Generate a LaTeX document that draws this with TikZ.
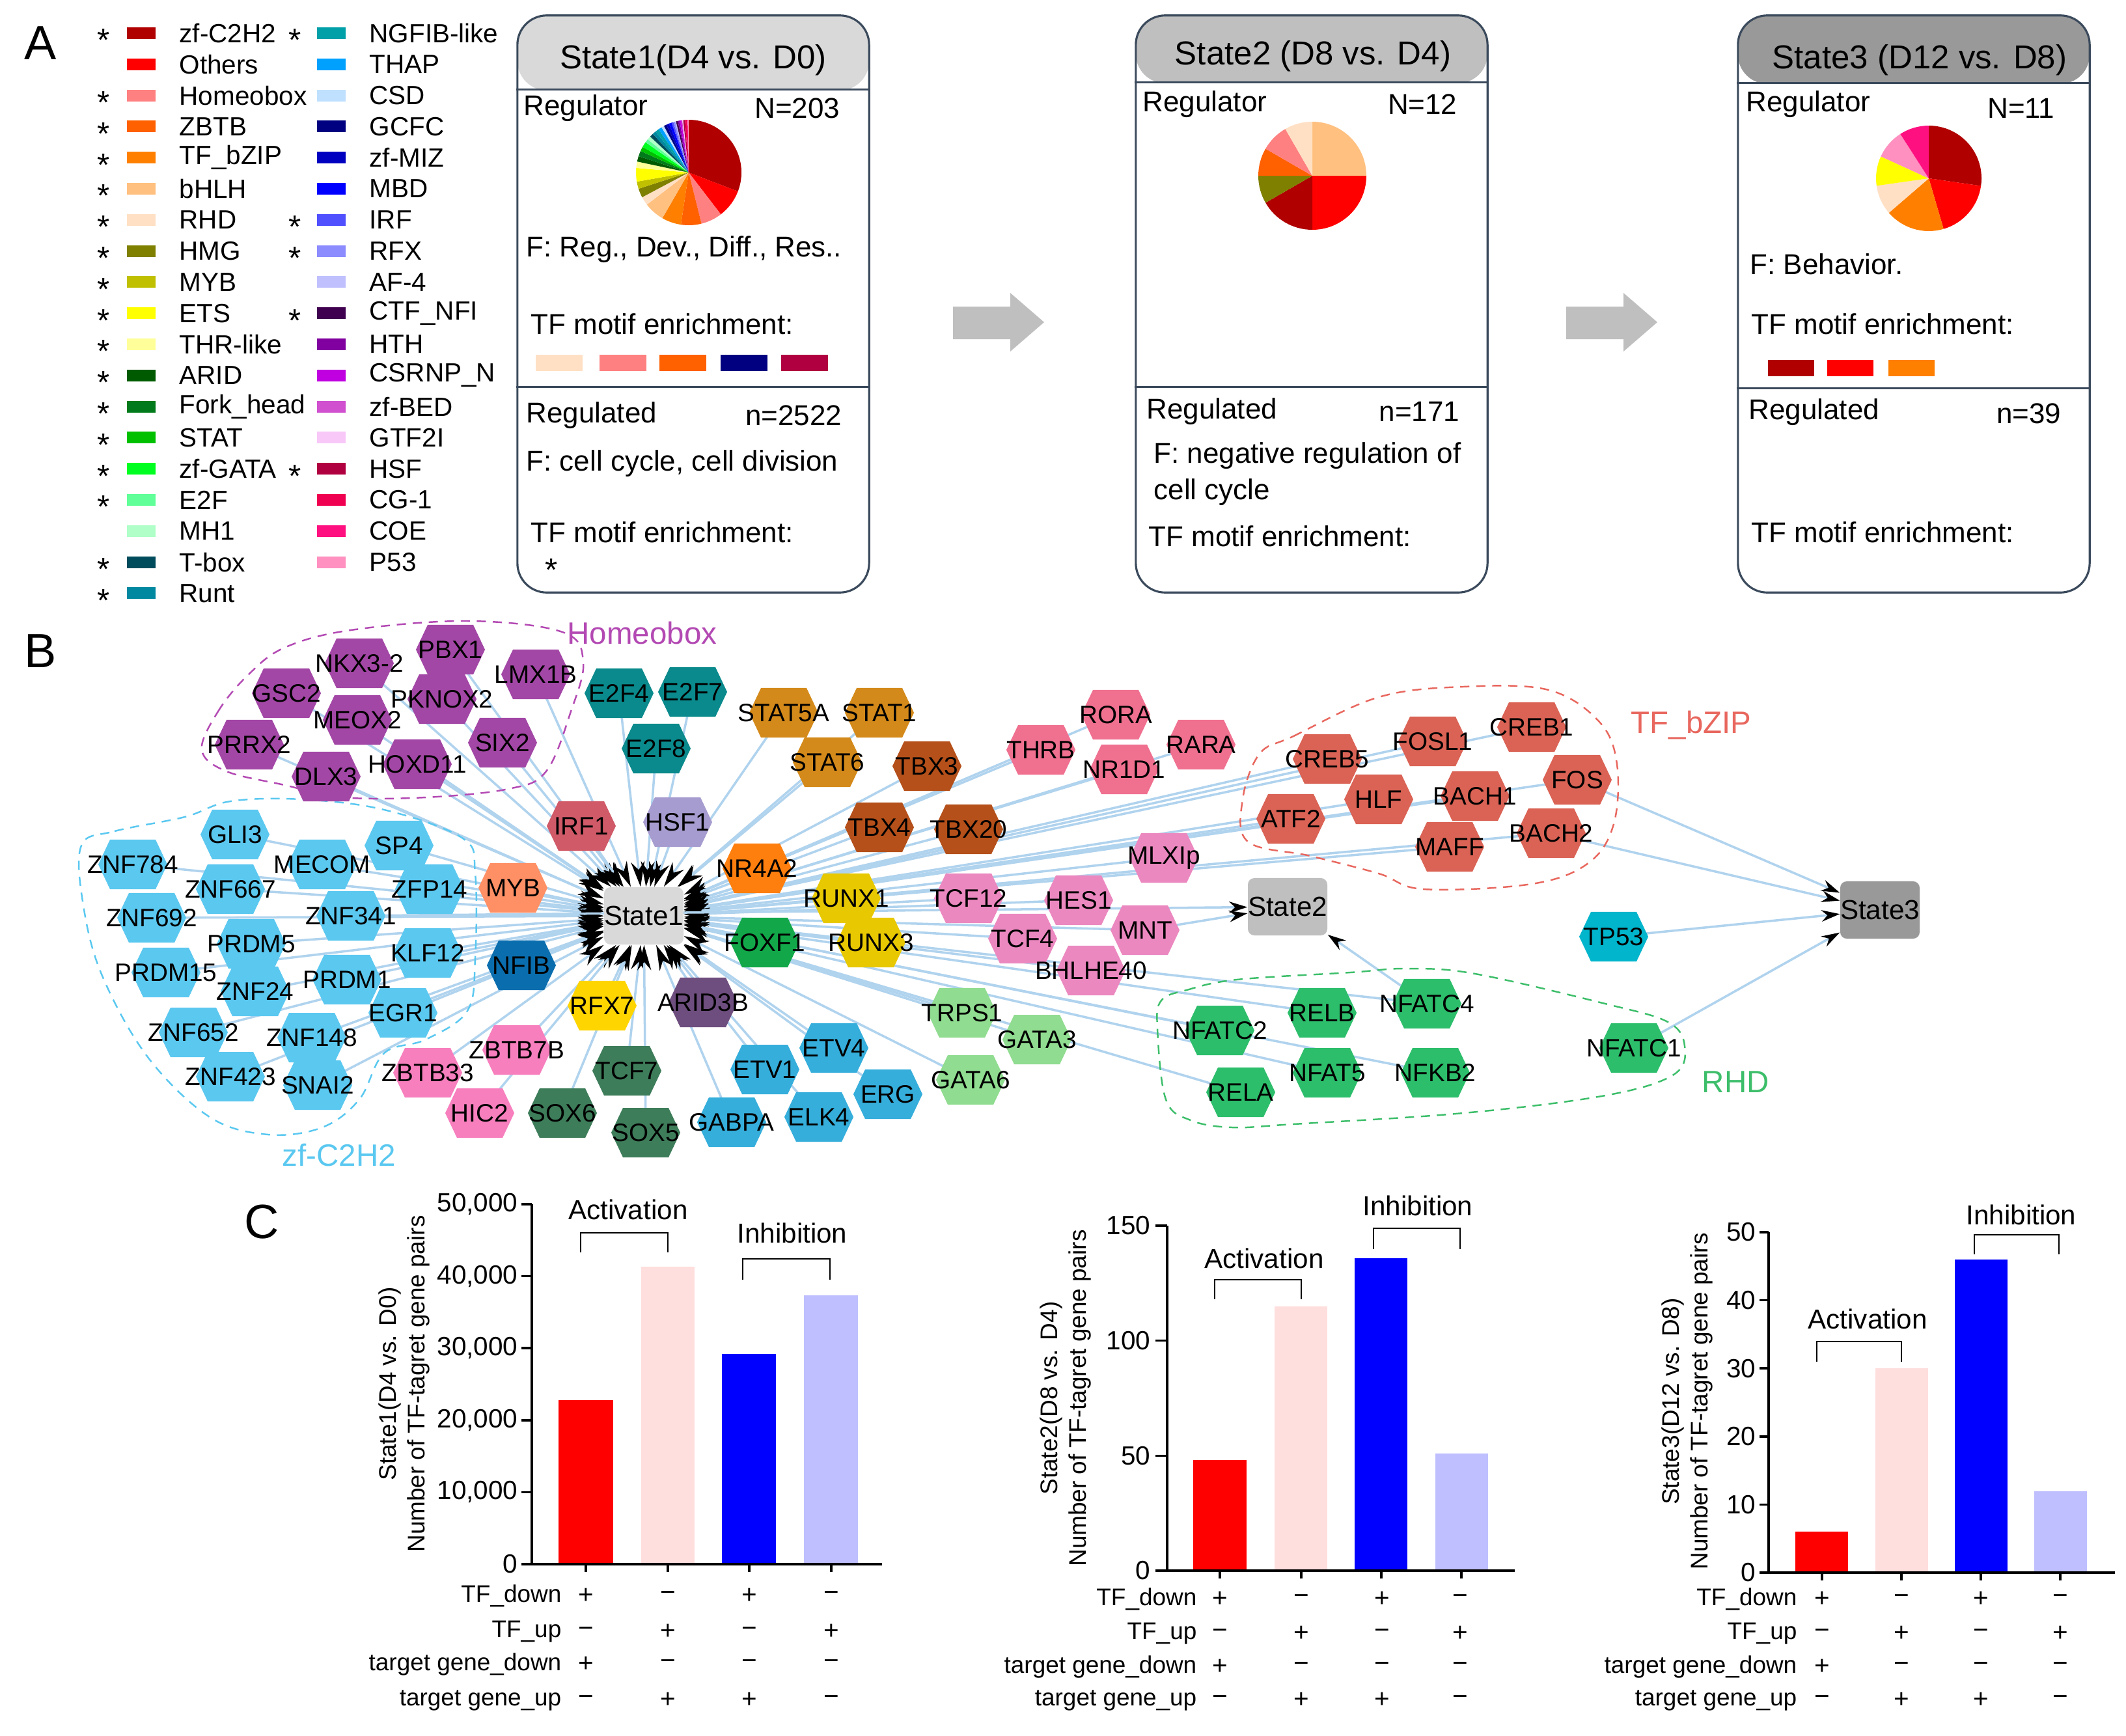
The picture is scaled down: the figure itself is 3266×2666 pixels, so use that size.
\documentclass[tikz,border=0pt]{standalone}
\usepackage{fontspec}
\setmainfont{Liberation Sans}
\usetikzlibrary{arrows.meta,backgrounds}
% legend / pie colours
\definecolor{cC2H2}{HTML}{B00000}\definecolor{cOth}{HTML}{FF0000}\definecolor{cHomeo}{HTML}{FF8080}
\definecolor{cZBTB}{HTML}{FF6000}\definecolor{cbZIP}{HTML}{FF8000}\definecolor{cbHLH}{HTML}{FFC080}
\definecolor{cRHD}{HTML}{FFE0C4}\definecolor{cHMG}{HTML}{808000}\definecolor{cMYB}{HTML}{C0C000}
\definecolor{cETS}{HTML}{FFFF00}\definecolor{cTHR}{HTML}{FFFF99}\definecolor{cARID}{HTML}{005A00}
\definecolor{cFork}{HTML}{007A1A}\definecolor{cSTAT}{HTML}{00C000}\definecolor{cGATA}{HTML}{00FF20}
\definecolor{cE2F}{HTML}{60FF98}\definecolor{cMH1}{HTML}{B0FFC8}\definecolor{cTbox}{HTML}{004C5C}
\definecolor{cRunt}{HTML}{0088A0}\definecolor{cNGFIB}{HTML}{00A0A8}\definecolor{cTHAP}{HTML}{00A0FF}
\definecolor{cCSD}{HTML}{C0E0FF}\definecolor{cGCFC}{HTML}{000080}\definecolor{cMIZ}{HTML}{0000C0}
\definecolor{cMBD}{HTML}{0000FF}\definecolor{cIRF}{HTML}{5050FF}\definecolor{cRFX}{HTML}{8C8CFF}
\definecolor{cAF}{HTML}{C0C0FF}\definecolor{cCTF}{HTML}{400050}\definecolor{cHTH}{HTML}{8000A0}
\definecolor{cCSRNP}{HTML}{C000E0}\definecolor{cBED}{HTML}{D050D0}\definecolor{cGTF}{HTML}{F8C8F8}
\definecolor{cHSF}{HTML}{B00040}\definecolor{cCG}{HTML}{F00050}\definecolor{cCOE}{HTML}{FF1080}
\definecolor{cP}{HTML}{FF90C0}
% network colours
\definecolor{nHomeo}{HTML}{A347A6}\definecolor{nZnf}{HTML}{5BC8F0}\definecolor{nE2F}{HTML}{0A8A8C}
\definecolor{nIRF}{HTML}{D05A68}\definecolor{nHSF}{HTML}{A79CCF}\definecolor{nMYB}{HTML}{FF9066}
\definecolor{nNFI}{HTML}{0A6EAE}\definecolor{nRFX}{HTML}{FFD500}\definecolor{nARID}{HTML}{6E4E7E}
\definecolor{nZBTB}{HTML}{F77FBE}\definecolor{nSOX}{HTML}{3E7D5A}\definecolor{nSTAT}{HTML}{D48A1A}
\definecolor{nTBX}{HTML}{B5501A}\definecolor{nNR}{HTML}{F07090}\definecolor{nNRf}{HTML}{FF7F0E}
\definecolor{nRUNX}{HTML}{E8C800}\definecolor{nFOX}{HTML}{12A84A}\definecolor{nbHLH}{HTML}{EC88C0}
\definecolor{nGATA}{HTML}{90DC90}\definecolor{nETS}{HTML}{35AEDB}\definecolor{nbZIP}{HTML}{DA6355}
\definecolor{nPf}{HTML}{00B5CC}\definecolor{nRHD}{HTML}{2DBE6C}\definecolor{edgec}{HTML}{B0D3EE}
\definecolor{boxc}{HTML}{3B4A5C}\definecolor{arrc}{HTML}{BFBFBF}
\definecolor{hdA}{HTML}{D9D9D9}\definecolor{hdB}{HTML}{BFBFBF}\definecolor{hdC}{HTML}{999999}
\definecolor{bRed}{HTML}{FF0000}\definecolor{bPink}{HTML}{FFDEDE}\definecolor{bBlue}{HTML}{0000FF}\definecolor{bLav}{HTML}{BFBFFF}
\definecolor{lHomeo}{HTML}{B349B3}\definecolor{lbZIP}{HTML}{E8675E}\definecolor{lRHD}{HTML}{3DBE6A}\definecolor{lZnf}{HTML}{5AC8F0}
% fonts
\newcommand\fLeg{\fontsize{11.5pt}{13pt}\selectfont}
\newcommand\fStar{\fontsize{14pt}{15pt}\selectfont}
\newcommand\fTitle{\fontsize{14.5pt}{17pt}\selectfont}
\newcommand\fBox{\fontsize{12.5pt}{15pt}\selectfont}
\newcommand\fNet{\fontsize{11pt}{13pt}\selectfont}
\newcommand\fSt{\fontsize{12pt}{14pt}\selectfont}
\newcommand\fClu{\fontsize{13.5pt}{16pt}\selectfont}
\newcommand\fBig{\fontsize{21pt}{25pt}\selectfont}
\newcommand\fTick{\fontsize{11.5pt}{13pt}\selectfont}
\newcommand\fAx{\fontsize{10.5pt}{12.5pt}\selectfont}
\newcommand\fRow{\fontsize{10.5pt}{12pt}\selectfont}
\newcommand\fAct{\fontsize{12pt}{14pt}\selectfont}
\newcommand\hx[5]{\node[hexn=#2] (#1) at (#3,#4) {\makebox[0pt]{#5}};}
\newcommand\mypie[4]{%
  \foreach \pc/\pd [remember=\pe as \ps (initially -90), evaluate=\pd as \pe using \ps+\pd] in {#4}{
    \fill[\pc] (#1,#2) -- ++(\ps:#3) arc[start angle=\ps, end angle=\pe, radius=#3] -- cycle;
  }}
\begin{document}
\begin{tikzpicture}[x=0.01cm,y=-0.01cm,
  legtxt/.style={anchor=west,font=\fLeg,inner sep=0pt},
  legstar/.style={font=\fStar,inner sep=0pt},
  swatch/.style={minimum width=0.44cm,minimum height=0.18cm,inner sep=0pt},
  mswatch/.style={minimum width=0.71cm,minimum height=0.25cm,inner sep=0pt},
  btitle/.style={font=\fTitle,inner sep=0pt},
  btxtl/.style={anchor=west,font=\fBox,inner sep=0pt},
  btxtr/.style={anchor=east,font=\fBox,inner sep=0pt},
  sbox/.style 2 args={draw=boxc,line width=0.9pt,rounded corners=0.45cm,minimum width=5.4cm,minimum height=8.86cm,inner sep=0pt,
     path picture={\fill[#1] (path picture bounding box.north west) rectangle ([yshift=-#2]path picture bounding box.north east);}},
  boxl/.style={draw=boxc,line width=0.9pt},
  hexn/.style={minimum width=1.06cm,minimum height=0.76cm,inner sep=0pt,font=\fNet,
     path picture={\fill[#1] ([xshift=0.18cm]path picture bounding box.north west) -- ([xshift=-0.18cm]path picture bounding box.north east) -- (path picture bounding box.east) -- ([xshift=-0.18cm]path picture bounding box.south east) -- ([xshift=0.18cm]path picture bounding box.south west) -- (path picture bounding box.west) -- cycle;}},
  stnode/.style={minimum width=1.12cm,minimum height=0.88cm,rounded corners=0.1cm,inner sep=0pt,font=\fSt},
  tfedge/.style={draw=edgec,line width=1pt,-{Stealth[length=11pt,width=6pt,color=black]}},
  tfedgeb/.style={draw=edgec,line width=1pt,-{Stealth[length=8pt,width=5pt,color=black]}},
  clus/.style={line width=0.7pt,dash pattern=on 4pt off 3pt},
  clab/.style={font=\fClu,inner sep=0pt},
  bigl/.style={font=\fBig,inner sep=0pt},
  axl/.style={line width=1pt,black},
  tickl/.style={font=\fTick,anchor=east,inner sep=0pt},
  rowl/.style={font=\fRow,anchor=east,inner sep=0pt},
  sgn/.style={font=\fTick,inner sep=0pt},
  brk/.style={line width=0.8pt},
  actl/.style={font=\fAct,inner sep=0pt},
  ytl/.style={font=\fAx,rotate=90,align=center,inner sep=0pt}]
\useasboundingbox (0,0) rectangle (3266,2666);

% ---------------- Panel A ----------------
\node[bigl] (labA) at (62,66) {A};
\foreach \t/\c [count=\i from 0] in {zf-C2H2/cC2H2,Others/cOth,Homeobox/cHomeo,ZBTB/cZBTB,TF\_bZIP/cbZIP,bHLH/cbHLH,RHD/cRHD,HMG/cHMG,MYB/cMYB,ETS/cETS,THR-like/cTHR,ARID/cARID,Fork\_head/cFork,STAT/cSTAT,zf-GATA/cGATA,E2F/cE2F,MH1/cMH1,T-box/cTbox,Runt/cRunt}{
  \node[swatch,fill=\c] (lsa\i) at (217,51+\i*47.8) {};
  \node[legtxt] (lta\i) at (275,51+\i*47.8) {\t};
}
\foreach \i in {0,2,3,4,5,6,7,8,9,10,11,12,13,14,15,17,18}{\node[legstar] (lxa\i) at (159,62+\i*47.8) {*};}
\foreach \t/\c [count=\i from 0] in {NGFIB-like/cNGFIB,THAP/cTHAP,CSD/cCSD,GCFC/cGCFC,zf-MIZ/cMIZ,MBD/cMBD,IRF/cIRF,RFX/cRFX,AF-4/cAF,CTF\_NFI/cCTF,HTH/cHTH,CSRNP\_N/cCSRNP,zf-BED/cBED,GTF2I/cGTF,HSF/cHSF,CG-1/cCG,COE/cCOE,P53/cP}{
  \node[swatch,fill=\c] (lsb\i) at (509,51+\i*47.8) {};
  \node[legtxt] (ltb\i) at (567,51+\i*47.8) {\t};
}
\foreach \i in {0,6,7,9,14}{\node[legstar] (lxb\i) at (453,62+\i*47.8) {*};}

% State boxes
\node[sbox={hdA}{1.15cm}] (box1) at (1065,467) {};
\draw[boxl] ([yshift=-1.15cm]box1.north west) -- ([yshift=-1.15cm]box1.north east);
\draw[boxl] ([yshift=-5.72cm]box1.north west) -- ([yshift=-5.72cm]box1.north east);
\node[btitle] (ti1) at (1065,92) {State1(D4 vs. D0)};
\node[btxtl] (rg1) at (804,166) {Regulator};
\node[btxtr] (nn1) at (1291,166) {N=203};
\mypie{1058}{265}{81}{cC2H2/111,cOth/31.5,cHomeo/23.5,cZBTB/22.5,cbZIP/21.5,cbHLH/22.5,cRHD/9.5,cHMG/10,cMYB/8,cETS/15,cTHR/7,cARID/6,cFork/6,cSTAT/5,cGATA/6,cE2F/4,cMH1/4,cTbox/4,cRunt/4,cNGFIB/4,cTHAP/4,cCSD/3,cGCFC/3,cMIZ/3,cMBD/3,cIRF/2,cRFX/2,cAF/1,cCTF/2,cHTH/2,cCSRNP/2,cBED/1,cGTF/1,cHSF/2,cCG/2,cCOE/1,cP/1}
\node[btxtl] (fa1) at (808,383) {F: Reg., Dev., Diff., Res..};
\node[btxtl] (mo1) at (815,498) {TF motif enrichment:};
\node[mswatch,fill=cRHD] (ms11) at (859,557) {};
\node[mswatch,fill=cHomeo] (ms12) at (957,557) {};
\node[mswatch,fill=cZBTB] (ms13) at (1049,557) {};
\node[mswatch,fill=cGCFC] (ms14) at (1143,557) {};
\node[mswatch,fill=cHSF] (ms15) at (1236,557) {};
\node[btxtl] (rd1) at (808,638) {Regulated};
\node[btxtr] (nd1) at (1294,638) {n=2522};
\node[btxtl] (fb1) at (808,712) {F: cell cycle, cell division};
\node[btxtl] (mo1b) at (815,818) {TF motif enrichment:};
\node[legstar] (st1) at (847,876) {*};

\node[sbox={hdB}{1.04cm}] (box2) at (2015,467) {};
\draw[boxl] ([yshift=-1.04cm]box2.north west) -- ([yshift=-1.04cm]box2.north east);
\draw[boxl] ([yshift=-5.72cm]box2.north west) -- ([yshift=-5.72cm]box2.north east);
\node[btitle] (ti2) at (2017,86) {State2 (D8 vs. D4)};
\node[btxtl] (rg2) at (1755,160) {Regulator};
\node[btxtr] (nn2) at (2239,160) {N=12};
\mypie{2016}{270}{83}{cbHLH/90,cOth/90,cC2H2/60,cHMG/30,cZBTB/30,cHomeo/30,cRHD/30}
\node[btxtl] (rd2) at (1761,632) {Regulated};
\node[btxtr] (nd2) at (2243,632) {n=171};
\node[btxtl] (fb2) at (1772,700) {F: negative regulation of};
\node[btxtl] (fc2) at (1772,756) {cell cycle};
\node[btxtl] (mo2) at (1764,824) {TF motif enrichment:};

\node[sbox={hdC}{1.05cm}] (box3) at (2940,467) {};
\draw[boxl] ([yshift=-1.05cm]box3.north west) -- ([yshift=-1.05cm]box3.north east);
\draw[boxl] ([yshift=-5.74cm]box3.north west) -- ([yshift=-5.74cm]box3.north east);
\node[btitle] (ti3) at (2949,92) {State3 (D12 vs. D8)};
\node[btxtl] (rg3) at (2682,160) {Regulator};
\node[btxtr] (nn3) at (3157,166) {N=11};
\mypie{2963}{274}{81}{cC2H2/98.2,cOth/65.5,cbZIP/65.5,cRHD/32.7,cETS/32.7,cP/32.7,cCOE/32.7}
\node[btxtl] (fa3) at (2688,406) {F: Behavior.};
\node[btxtl] (mo3) at (2690,498) {TF motif enrichment:};
\node[mswatch,fill=cC2H2] (ms31) at (2751,565) {};
\node[mswatch,fill=cOth] (ms32) at (2842,565) {};
\node[mswatch,fill=cbZIP] (ms33) at (2936,565) {};
\node[btxtl] (rd3) at (2686,633) {Regulated};
\node[btxtr] (nd3) at (3167,635) {n=39};
\node[btxtl] (mo3b) at (2690,818) {TF motif enrichment:};

% block arrows
\fill[arrc] (1464,471) -- (1552,471) -- (1552,450) -- (1604,495) -- (1552,540) -- (1552,521) -- (1464,521) -- cycle;
\fill[arrc] (2406,471) -- (2494,471) -- (2494,450) -- (2546,495) -- (2494,540) -- (2494,521) -- (2406,521) -- cycle;

% ---------------- Panel B ----------------
\node[bigl] (labB) at (62,1000) {B};
% Homeobox
\hx{PBX1}{nHomeo}{692}{998}{PBX1}
\hx{LMX1B}{nHomeo}{823}{1036}{LMX1B}
\hx{GSC2}{nHomeo}{440}{1065}{GSC2}
\hx{NKX32}{nHomeo}{552}{1019}{NKX3-2}
\hx{PKNOX2}{nHomeo}{679}{1074}{PKNOX2}
\hx{MEOX2}{nHomeo}{549}{1106}{MEOX2}
\hx{PRRX2}{nHomeo}{383}{1144}{PRRX2}
\hx{SIX2}{nHomeo}{772}{1141}{SIX2}
\hx{HOXD11}{nHomeo}{641}{1174}{HOXD11}
\hx{DLX3}{nHomeo}{501}{1193}{DLX3}
% zf-C2H2
\hx{GLI3}{nZnf}{361}{1282}{GLI3}
\hx{SP4}{nZnf}{613}{1299}{SP4}
\hx{ZNF784}{nZnf}{204}{1328}{ZNF784}
\hx{MECOM}{nZnf}{495}{1328}{MECOM}
\hx{ZNF667}{nZnf}{354}{1366}{ZNF667}
\hx{ZFP14}{nZnf}{660}{1366}{ZFP14}
\hx{ZNF692}{nZnf}{233}{1410}{ZNF692}
\hx{ZNF341}{nZnf}{539}{1407}{ZNF341}
\hx{PRDM5}{nZnf}{386}{1450}{PRDM5}
\hx{KLF12}{nZnf}{657}{1464}{KLF12}
\hx{PRDM15}{nZnf}{255}{1494}{PRDM15}
\hx{PRDM1}{nZnf}{533}{1505}{PRDM1}
\hx{ZNF24}{nZnf}{392}{1523}{ZNF24}
\hx{EGR1}{nZnf}{619}{1556}{EGR1}
\hx{ZNF652}{nZnf}{297}{1586}{ZNF652}
\hx{ZNF148}{nZnf}{479}{1594}{ZNF148}
\hx{ZNF423}{nZnf}{354}{1654}{ZNF423}
\hx{SNAI2}{nZnf}{488}{1667}{SNAI2}
% others
\hx{E2F4}{nE2F}{951}{1065}{E2F4}
\hx{E2F7}{nE2F}{1064}{1063}{E2F7}
\hx{E2F8}{nE2F}{1008}{1150}{E2F8}
\hx{IRF1}{nIRF}{893}{1269}{IRF1}
\hx{HSF1}{nHSF}{1041}{1263}{HSF1}
\hx{MYB}{nMYB}{788}{1364}{MYB}
\hx{NFIB}{nNFI}{801}{1483}{NFIB}
\hx{RFX7}{nRFX}{925}{1545}{RFX7}
\hx{ARID3B}{nARID}{1080}{1540}{ARID3B}
\hx{ZBTB7B}{nZBTB}{794}{1613}{ZBTB7B}
\hx{ZBTB33}{nZBTB}{657}{1648}{ZBTB33}
\hx{HIC2}{nZBTB}{737}{1710}{HIC2}
\hx{TCF7}{nSOX}{963}{1645}{TCF7}
\hx{SOX6}{nSOX}{864}{1710}{SOX6}
\hx{SOX5}{nSOX}{992}{1740}{SOX5}
\hx{STAT5A}{nSTAT}{1204}{1095}{STAT5A}
\hx{STAT1}{nSTAT}{1351}{1095}{STAT1}
\hx{STAT6}{nSTAT}{1271}{1171}{STAT6}
\hx{TBX3}{nTBX}{1424}{1177}{TBX3}
\hx{TBX4}{nTBX}{1351}{1271}{TBX4}
\hx{TBX20}{nTBX}{1488}{1274}{TBX20}
\hx{RORA}{nNR}{1714}{1098}{RORA}
\hx{THRB}{nNR}{1599}{1152}{THRB}
\hx{RARA}{nNR}{1845}{1144}{RARA}
\hx{NR1D1}{nNR}{1727}{1182}{NR1D1}
\hx{NR4A2}{nNRf}{1163}{1334}{NR4A2}
\hx{RUNX1}{nRUNX}{1300}{1380}{RUNX1}
\hx{RUNX3}{nRUNX}{1338}{1448}{RUNX3}
\hx{FOXF1}{nFOX}{1175}{1448}{FOXF1}
\hx{MLXIp}{nbHLH}{1788}{1318}{MLXIp}
\hx{TCF12}{nbHLH}{1488}{1380}{TCF12}
\hx{HES1}{nbHLH}{1657}{1383}{HES1}
\hx{MNT}{nbHLH}{1759}{1429}{MNT}
\hx{TCF4}{nbHLH}{1571}{1442}{TCF4}
\hx{BHLHE40}{nbHLH}{1676}{1491}{BHLHE40}
\hx{TRPS1}{nGATA}{1478}{1556}{TRPS1}
\hx{GATA3}{nGATA}{1593}{1597}{GATA3}
\hx{GATA6}{nGATA}{1491}{1659}{GATA6}
\hx{ETV4}{nETS}{1281}{1610}{ETV4}
\hx{ETV1}{nETS}{1175}{1643}{ETV1}
\hx{ERG}{nETS}{1364}{1681}{ERG}
\hx{ELK4}{nETS}{1258}{1716}{ELK4}
\hx{GABPA}{nETS}{1124}{1724}{GABPA}
% TF_bZIP
\hx{CREB5}{nbZIP}{2039}{1166}{CREB5}
\hx{FOSL1}{nbZIP}{2201}{1139}{FOSL1}
\hx{CREB1}{nbZIP}{2353}{1117}{CREB1}
\hx{ATF2}{nbZIP}{1983}{1258}{ATF2}
\hx{HLF}{nbZIP}{2118}{1228}{HLF}
\hx{BACH1}{nbZIP}{2266}{1223}{BACH1}
\hx{FOS}{nbZIP}{2423}{1198}{FOS}
\hx{MAFF}{nbZIP}{2227}{1301}{MAFF}
\hx{BACH2}{nbZIP}{2383}{1280}{BACH2}
\hx{TP53}{nPf}{2479}{1439}{TP53}
% RHD
\hx{NFATC2}{nRHD}{1874}{1583}{NFATC2}
\hx{RELA}{nRHD}{1906}{1678}{RELA}
\hx{RELB}{nRHD}{2031}{1556}{RELB}
\hx{NFATC4}{nRHD}{2192}{1542}{NFATC4}
\hx{NFAT5}{nRHD}{2039}{1648}{NFAT5}
\hx{NFKB2}{nRHD}{2205}{1648}{NFKB2}
\hx{NFATC1}{nRHD}{2510}{1610}{NFATC1}
% states
\node[stnode,fill=hdA] (State1) at (989,1407) {State1};
\node[stnode,fill=hdB] (State2) at (1978,1393) {State2};
\node[stnode,fill=hdC] (State3) at (2888,1398) {State3};
% cluster labels
\node[clab,text=lHomeo,anchor=west] (cluH) at (871,973) {Homeobox};
\node[clab,text=lbZIP,anchor=west] (cluB) at (2505,1114) {TF\_bZIP};
\node[clab,text=lRHD,anchor=west] (cluR) at (2614,1662) {RHD};
\node[clab,text=lZnf] (cluZ) at (521,1775) {zf-C2H2};

\begin{scope}[on background layer]
\fill[white] (0,0) rectangle (3266,2666);
\foreach \n in {PBX1,NKX32,LMX1B,GSC2,PKNOX2,MEOX2,PRRX2,SIX2,DLX3,HOXD11,
  GLI3,SP4,ZNF784,MECOM,ZNF667,ZFP14,ZNF692,ZNF341,PRDM5,KLF12,PRDM15,ZNF24,PRDM1,EGR1,ZNF652,ZNF148,ZNF423,SNAI2,
  E2F4,E2F7,E2F8,IRF1,HSF1,MYB,NFIB,RFX7,ARID3B,ZBTB7B,ZBTB33,HIC2,TCF7,SOX6,SOX5,
  STAT5A,STAT1,STAT6,TBX3,TBX4,TBX20,RORA,THRB,RARA,NR1D1,NR4A2,RUNX1,RUNX3,FOXF1,TCF12,HES1,MLXIp,MNT,TCF4,BHLHE40,
  TRPS1,GATA3,GATA6,ETV4,ETV1,ERG,ELK4,GABPA,
  CREB5,FOSL1,CREB1,ATF2,HLF,BACH1,FOS,MAFF,BACH2,
  NFATC2,RELA,RELB,NFATC4,NFAT5,NFKB2}{
  \draw[tfedge] (\n.center) -- (State1);
}
\foreach \n in {ZNF341,MNT,NFATC4}{\draw[tfedgeb] (\n.center) -- (State2);}
\foreach \n in {FOS,BACH2,TP53,NFATC1}{\draw[tfedgeb] (\n.center) -- (State3);}
\draw[clus,draw=lHomeo] plot[smooth cycle,tension=0.6] coordinates {(310,1152) (335,1093) (380,1038) (437,995) (539,968) (718,954) (864,971) (896,1017) (877,1093) (839,1185) (781,1212) (654,1225) (526,1225) (437,1206) (348,1185)};
\draw[clus,draw=lZnf] plot[smooth cycle,tension=0.6] coordinates {(125,1299) (176,1277) (284,1255) (354,1231) (463,1228) (590,1244) (711,1288) (730,1342) (730,1472) (718,1553) (654,1597) (590,1618) (552,1689) (495,1732) (412,1743) (322,1716) (227,1624) (157,1499) (128,1391)};
\draw[clus,draw=lbZIP] plot[smooth cycle,tension=0.6] coordinates {(1935,1158) (1987,1131) (2118,1071) (2248,1055) (2379,1060) (2457,1109) (2484,1174) (2479,1266) (2440,1326) (2353,1358) (2187,1366) (2118,1342) (2013,1315) (1917,1293) (1909,1228)};
\draw[clus,draw=lRHD] plot[smooth cycle,tension=0.6] coordinates {(1784,1537) (1823,1521) (1900,1505) (2074,1494) (2161,1488) (2266,1496) (2466,1542) (2562,1570) (2588,1607) (2571,1651) (2466,1683) (2248,1710) (1987,1727) (1893,1732) (1829,1721) (1791,1689) (1778,1580)};
\end{scope}

% ---------------- Panel C ----------------
\node[bigl] (labC) at (402,1877) {C};
% chart 1
\fill[bRed] (858,2151) rectangle (942,2403);
\fill[bPink] (985,1946) rectangle (1067,2403);
\fill[bBlue] (1109,2080) rectangle (1192,2403);
\fill[bLav] (1235,1990) rectangle (1318,2403);
\draw[axl] (817,1850) -- (817,2403);
\draw[axl] (801,2403) -- (1355,2403);
\foreach \v/\l [count=\k] in {0/0,1/{10,000},2/{20,000},3/{30,000},4/{40,000},5/{50,000}}{
  \draw[axl] (801,2403-\v*110.6) -- (817,2403-\v*110.6);
  \node[tickl] (cAt\k) at (796,2403-\v*110.6) {\l};
}
\foreach \x in {900,1026,1151,1277}{\draw[axl] (\x,2403) -- (\x,2415);}
\draw[brk] (892,1924) -- (892,1894) -- (1026,1894) -- (1026,1924);
\node[actl] (cAact) at (965,1858) {Activation};
\draw[brk] (1141,1966) -- (1141,1934) -- (1275,1934) -- (1275,1966);
\node[actl] (cAinh) at (1217,1894) {Inhibition};
\node[ytl] (cAy) at (621,2126) {State1(D4 vs. D0)\\Number of TF-tagret gene pairs};
\foreach \ry/\lab/\qa/\qb/\qc/\qd [count=\k] in {2452/TF\_down/+/−/+/−,2507/TF\_up/−/+/−/+,2557/target gene\_down/+/−/−/−,2612/target gene\_up/−/+/+/−}{
  \node[rowl] (cAr\k) at (863,\ry) {\lab};
  \node[sgn] (cAa\k) at (900,\ry) {\qa};
  \node[sgn] (cAb\k) at (1026,\ry) {\qb};
  \node[sgn] (cAc\k) at (1151,\ry) {\qc};
  \node[sgn] (cAd\k) at (1277,\ry) {\qd};
}
% chart 2
\fill[bRed] (1833,2243.4) rectangle (1915,2413);
\fill[bPink] (1958,2006.7) rectangle (2039,2413);
\fill[bBlue] (2081,1932.5) rectangle (2162,2413);
\fill[bLav] (2205,2232.8) rectangle (2286,2413);
\draw[axl] (1793,1883) -- (1793,2413);
\draw[axl] (1775,2413) -- (2327,2413);
\foreach \v [count=\k] in {0,50,100,150}{
  \draw[axl] (1775,2413-\v*3.533) -- (1793,2413-\v*3.533);
  \node[tickl] (cBt\k) at (1768,2413-\v*3.533) {\v};
}
\foreach \x in {1874,1999,2122,2245}{\draw[axl] (\x,2413) -- (\x,2425);}
\draw[brk] (1866,1996) -- (1866,1966) -- (1999,1966) -- (1999,1996);
\node[actl] (cBact) at (1942,1933) {Activation};
\draw[brk] (2110,1919) -- (2110,1887) -- (2243,1887) -- (2243,1919);
\node[actl] (cBinh) at (2178,1852) {Inhibition};
\node[ytl] (cBy) at (1637,2148) {State2(D8 vs. D4)\\Number of TF-tagret gene pairs};
\foreach \ry/\lab/\qa/\qb/\qc/\qd [count=\k] in {2457/TF\_down/+/−/+/−,2510/TF\_up/−/+/−/+,2561/target gene\_down/+/−/−/−,2612/target gene\_up/−/+/+/−}{
  \node[rowl] (cBr\k) at (1839,\ry) {\lab};
  \node[sgn] (cBa\k) at (1874,\ry) {\qa};
  \node[sgn] (cBb\k) at (1999,\ry) {\qb};
  \node[sgn] (cBc\k) at (2123,\ry) {\qc};
  \node[sgn] (cBd\k) at (2243,\ry) {\qd};
}
% chart 3
\fill[bRed] (2758,2353.2) rectangle (2839,2416);
\fill[bPink] (2881,2102.2) rectangle (2962,2416);
\fill[bBlue] (3003,1934.8) rectangle (3084,2416);
\fill[bLav] (3125,2290.5) rectangle (3206,2416);
\draw[axl] (2717,1893) -- (2717,2416);
\draw[axl] (2703,2416) -- (3249,2416);
\foreach \v [count=\k] in {0,10,20,30,40,50}{
  \draw[axl] (2703,2416-\v*10.46) -- (2717,2416-\v*10.46);
  \node[tickl] (cCt\k) at (2698,2416-\v*10.46) {\v};
}
\foreach \x in {2799,2921,3043,3165}{\draw[axl] (\x,2416) -- (\x,2428);}
\draw[brk] (2791,2092) -- (2791,2061) -- (2921,2061) -- (2921,2092);
\node[actl] (cCact) at (2869,2026) {Activation};
\draw[brk] (3033,1927) -- (3033,1897) -- (3163,1897) -- (3163,1927);
\node[actl] (cCinh) at (3105,1866) {Inhibition};
\node[ytl] (cCy) at (2592,2153) {State3(D12 vs. D8)\\Number of TF-tagret gene pairs};
\foreach \ry/\lab/\qa/\qb/\qc/\qd [count=\k] in {2457/TF\_down/+/−/+/−,2510/TF\_up/−/+/−/+,2561/target gene\_down/+/−/−/−,2612/target gene\_up/−/+/+/−}{
  \node[rowl] (cCr\k) at (2761,\ry) {\lab};
  \node[sgn] (cCa\k) at (2799,\ry) {\qa};
  \node[sgn] (cCb\k) at (2921,\ry) {\qb};
  \node[sgn] (cCc\k) at (3043,\ry) {\qc};
  \node[sgn] (cCd\k) at (3165,\ry) {\qd};
}
\end{tikzpicture}
\end{document}
